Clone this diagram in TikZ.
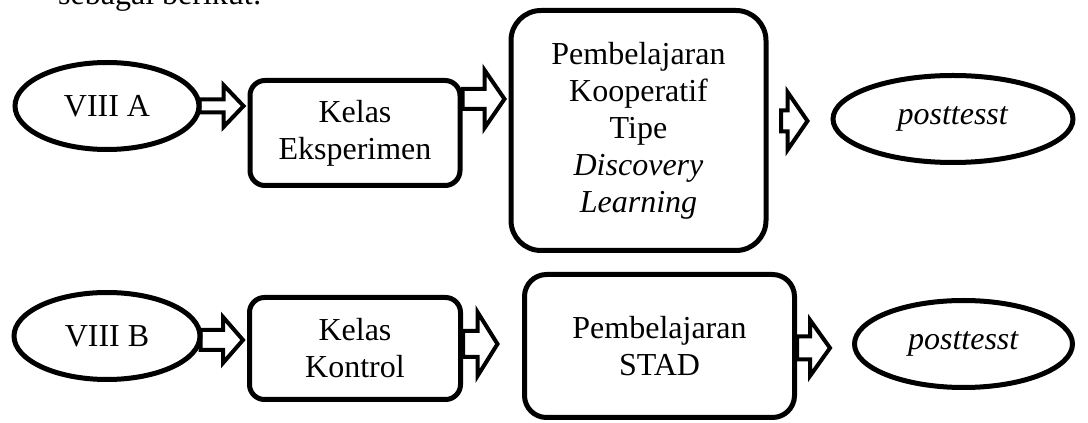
\documentclass[tikz,border=0pt]{standalone}
\usepackage{fontspec}
\setmainfont{Liberation Serif}
\usepackage{tikz}
\usetikzlibrary{shapes, calc, positioning}
\tikzstyle{kelas} = [ellipse, minimum width=184pt, minimum height=87pt, inner sep=0pt, text centered, draw=black, line width=5pt]
\tikzstyle{kotak} = [rectangle, rounded corners=15pt, minimum width=210pt, minimum height=105pt, inner sep=0pt, align=center, draw=black, line width=5pt]
\tikzstyle{panah} = [draw=black, line width=4pt, line join=miter]
\tikzset{blok/.style 2 args={to path={let \p1=(\tikztostart), \p2=(\tikztotarget) in
  (\x1,\y1+#1pt) -- (\x2-24pt,\y1+#1pt) -- (\x2-24pt,\y1+#2pt) -- (\x2-4pt,\y1)
  -- (\x2-24pt,\y1-#2pt) -- (\x2-24pt,\y1-#1pt) -- (\x1,\y1-#1pt) -- cycle}}}

\begin{document}
\begin{tikzpicture}[x=1pt, y=1pt, node distance=250pt, font=\fontsize{32}{37}\selectfont]
\useasboundingbox (0,0) rectangle (1088,423);
\clip (0,0) rectangle (1088,423);
\node (teks) [anchor=base west, inner sep=0pt] at (58,418) {sebagai berikut:};
% baris atas
\node (va) [kelas] at (107,317) {VIII A};
\node (ka) [kotak, right of=va, xshift=-2pt, yshift=-27pt] {Kelas\\ Eksperimen};
\node (pk) [kotak, right of=ka, xshift=33.5pt, yshift=2.5pt, minimum width=255pt, minimum height=240pt, rounded corners=30pt] {Pembelajaran\\ Kooperatif\\ Tipe\\ \textit{Discovery}\\ \textit{Learning}};
\node (pa) [kelas, right of=pk, xshift=64.5pt, yshift=11.5pt, minimum width=240pt] {\textit{posttesst}};
% baris bawah
\node (vb) [kelas, below of=va, yshift=20pt, minimum width=186pt] {VIII B};
\node (kb) [kotak, right of=vb, xshift=-2pt, yshift=-12.5pt, minimum width=211pt, minimum height=102pt] {Kelas\\ Kontrol};
\node (stad) [kotak, right of=kb, xshift=54.5pt, yshift=2.5pt, minimum width=270pt, minimum height=143pt, rounded corners=22pt] {Pembelajaran\\ STAD};
\node (pb) [kelas, right of=stad, xshift=54pt, yshift=2pt, minimum width=218pt] {\textit{posttesst}};
\draw [panah] ([xshift=-2pt]va.east) to[blok={6.5}{21}] (ka.west);
\draw [panah] ([yshift=34pt]ka.east) to[blok={10}{29}] (pk.west);
\draw [panah] ([xshift=12.5pt, yshift=9.5pt]pk.east) to[blok={10.5}{29}] ([xshift=-19pt]pa.west);
\draw [panah] ([xshift=-2pt, yshift=-4pt]vb.east) to[blok={10}{23}] (kb.west);
\draw [panah] ([yshift=4.5pt]kb.east) to[blok={13}{32}] ([xshift=-20.5pt]stad.west);
\draw [panah] ([yshift=-2pt]stad.east) to[blok={11.5}{28}] ([xshift=-18pt]pb.west);
\end{tikzpicture}
\end{document}
